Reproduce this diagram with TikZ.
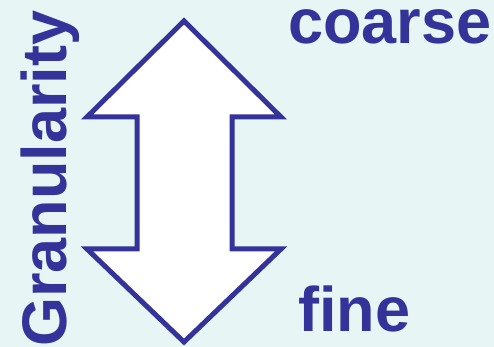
\documentclass[tikz,border=0pt]{standalone}
\usepackage{fontspec}
\setmainfont{Liberation Sans}
\definecolor{bgc}{HTML}{E8F5F5}
\definecolor{dblue}{HTML}{333399}
\begin{document}
\begin{tikzpicture}[x=1pt,y=1pt,
  lbl/.style={text=dblue,font=\fontsize{63}{63}\selectfont\bfseries,inner sep=0pt}]
\fill[bgc] (0,0) rectangle (494,347);
\useasboundingbox (0,0) rectangle (494,347);
\draw[dblue,line width=5pt,fill=white,line join=miter]
  (184,326) -- (281,230) -- (232,230) -- (232,98) -- (281,98) -- (184,5)
  -- (87,98) -- (137,98) -- (137,230) -- (87,230) -- cycle;
\node[lbl,rotate=90,anchor=base west] (gran) at (66,0) {Granularity};
\node[lbl,text height=34pt,anchor=base west] (coarse) at (288,303) {coarse};
\node[lbl,anchor=base west] (fine) at (298,15) {fine};
\end{tikzpicture}
\end{document}
